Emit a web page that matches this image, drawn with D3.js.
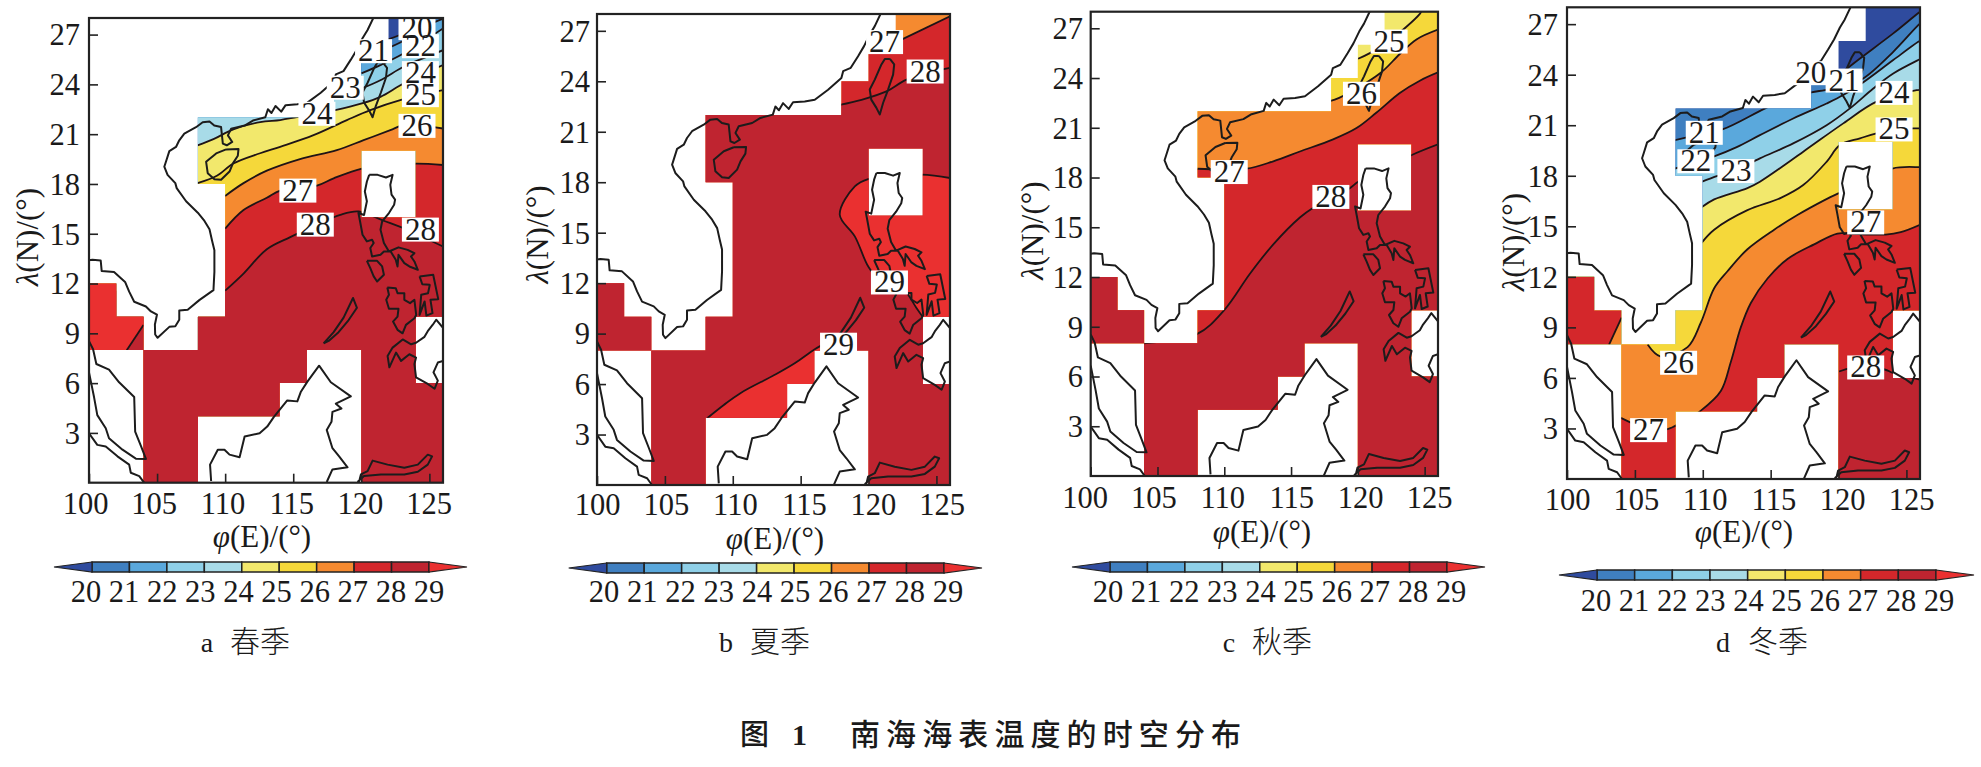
<!DOCTYPE html>
<html>
<head>
<meta charset="utf-8">
<script src="https://d3js.org/d3.v7.min.js"></script>
<style>
  body { margin: 0; background: #fff; }
  text { font-family: "Liberation Serif", serif; fill: #1a1a1a; }
  .cjk { font-family: "Noto Sans CJK SC", sans-serif; font-weight: 300; }
</style>
</head>
<body>
<svg id="chart" width="1981" height="767"></svg>
<script>
// colour levels
const levels = [20, 21, 22, 23, 24, 25, 26, 27, 28, 29];
const bandColors = ["#2f4b9e", "#3f7fc0", "#5aa8dc", "#8fd0e8", "#a8dbe8", "#f2e86c", "#f5d83a", "#f58a30", "#d4272b", "#bf2430", "#ea3030"];

const lonTicks = [100, 105, 110, 115, 120, 125];
const latTicks = [3, 6, 9, 12, 15, 18, 21, 24, 27];

// sea cells of the 2 degree grid: south edge, west edge, east edge
const oceanCells = [[26,122,126],[24,120,126],[22,118,126],[20,108,126],[18,108,120],[18,124,126],
  [16,110,120],[16,124,126],[14,110,126],[12,110,126],[10,100,102],[10,110,126],[8,100,104],[8,108,124],
  [6,104,116],[6,120,124],[4,104,114],[4,120,126],[2,104,108],[2,120,126],[0,104,108],[0,120,126]];

// coastlines [lon, lat]
const coastChina = [[120.9,28.03],[120.46,27.28],[120.1,26.8],[119.67,26.09],[119.23,25.49],[118.69,24.8],[118.13,24.6],[118,24.2],[117.02,23.5],[116.04,22.9],[115.3,22.8],[114.44,22.75],[114.12,22.36],[113.7,22.7],[113.4,22.28],[113.14,22.5],[112.95,22.02],[112.04,21.82],[111.43,21.52],[110.44,21.33],[110.2,20.93],[110.52,20.53],[110.12,20.33],[109.83,20.43],[109.7,21.43],[109.2,21.52],[108.85,21.76],[108.35,21.72],[107.86,21.42],[107,21.03],[106.63,20.63],[106.39,20.23],[105.9,19.98],[105.65,19.34],[105.53,19.04],[105.77,18.55],[106.34,18.05],[106.44,17.75],[107.13,16.96],[107.99,16.27],[108.48,15.77],[108.85,15.27],[109.04,14.58],[109.21,14],[109.21,12.7],[109.14,11.6],[108.1,11],[107.25,10.42],[106.63,10.38],[106.63,9.82],[106.34,9.43],[105.9,9.39],[105.04,8.73],[104.86,8.93],[104.84,9.53],[104.99,10.12],[104.55,10.32],[104.18,10.62],[103.32,10.9],[102.95,11.51],[102.65,12.1],[101.84,12.7],[100.93,12.76],[100.86,13.39],[100.25,13.43],[100,13.4]];
const coastHainan = [[110.07,20.08],[110.98,20.1],[110.93,19.7],[110.57,19.24],[110.32,18.75],[109.7,18.25],[109.21,18.29],[108.72,18.65],[108.6,19.34],[109.34,19.84],[110.07,20.08]];
const coastTaiwan = [[121.57,25.33],[121.89,25],[121.81,24.4],[121.44,23.51],[121.07,22.71],[120.83,22.02],[120.58,22.42],[120.2,22.91],[120.09,23.51],[120.46,24.1],[120.95,25],[121.2,25.33],[121.57,25.33]];
const coastMalay = [[100,8.53],[100.3,8.04],[100.54,7.15],[101.47,6.81],[102.21,6.05],[103.32,5.16],[103.39,3.08],[103.82,2.2],[104.18,1.43],[103.44,1.45],[102.46,1.99],[101.47,2.68],[101.23,3.28],[100.61,4.07],[100.37,5.16],[100,6.65]];
const coastSumatra = [[100,2.98],[100.61,2.28],[101.23,2.18],[102.09,1.59],[102.95,1.09],[103.07,0.6],[103.69,0.4],[104.05,0]];
const coastBorneo = [[108.97,0.1],[108.89,1.09],[109.46,1.99],[109.95,1.99],[110.32,1.69],[111.06,1.53],[111.43,2.78],[112.53,2.98],[113.09,3.38],[113.58,3.97],[114.56,4.96],[115.3,4.9],[115.55,5.46],[116.04,6.09],[116.9,7.05],[117.76,6.05],[119.23,5.2],[118.13,4.76],[118.54,4.47],[117.88,4.27],[117.81,3.67],[117.46,3.18],[117.88,2.08],[118.37,1.59],[118.99,0.93],[117.88,0.8],[117.46,0.04]];
const coastSulawesi = [[119.72,0.04],[119.85,0.1],[119.97,0.5],[120.46,0.7],[120.83,1.33],[121.93,1.09],[123.16,0.9],[124.15,1.09],[124.88,1.69],[125.2,1.59],[124.88,1.09],[124.15,0.66],[123.16,0.5],[121.44,0.5],[120.2,0.4],[119.72,0.04]];
const coastPalawan = [[117.23,8.39],[117.97,9.07],[118.7,9.95],[119.39,11.13],[119.68,10.54],[119.07,9.8],[118.33,9.07],[117.6,8.54],[117.23,8.39]];
const coastLuzon = [[120.58,18.55],[121.2,18.55],[121.81,18.39],[122.3,18.55],[122.13,17.95],[122.22,17.36],[122.48,17.06],[122.41,16.75],[122.03,16.25],[121.53,15.74],[121.41,15.24],[121.66,14.44],[122.03,13.93],[122.73,14.18],[123.4,14.03],[123.9,13.83],[123.65,13.63],[123.9,13.33],[124.15,12.83],[123.53,13.03],[123.16,13.23],[122.73,13.73],[122.66,13.03],[122.53,13.43],[122.16,13.93],[121.66,13.93],[121.41,13.73],[120.79,13.63],[120.66,14.14],[120.91,14.44],[120.79,14.64],[120.41,14.54],[120.09,14.94],[119.91,15.74],[119.79,16.25],[120.2,16.13],[120.41,16.96],[120.26,17.55],[120.41,18.15],[120.58,18.55]];
const coastMindoro = [[120.41,13.37],[121.16,13.37],[121.53,13.03],[121.66,12.53],[121.16,12.12],[120.91,12.43],[120.66,12.93],[120.41,13.37]];
const coastVisayas = [[121.91,11.76],[122.53,11.72],[122.66,11.42],[123.16,11.42],[123.16,11.02],[123.58,10.82],[123.9,11.02],[124.03,10.11],[123.9,9.91],[123.28,9.51],[123.03,9],[122.66,9.21],[122.33,9.71],[122.66,10.01],[122.73,10.48],[122.03,10.48],[121.83,11.02],[122.03,11.32],[121.91,11.76]];
const coastSamar = [[124.28,12.43],[125.28,12.53],[125.65,11.06],[125.08,11.02],[125.23,10.22],[124.78,10.07],[124.65,10.92],[124.28,10.11],[124.4,11.32],[124.9,11.42],[125.03,11.92],[124.48,11.96],[124.28,12.43]];
const coastMindanao = [[126,9.33],[125.5,9.82],[125.25,9.52],[124.88,9.13],[124.64,8.79],[124.02,8.43],[123.66,8.34],[123.04,8.63],[122.3,8.14],[121.93,7.64],[122.06,6.95],[122.55,7.84],[122.92,7.34],[123.53,7.74],[124.02,7.54],[123.9,7.15],[124.02,6.35],[124.88,5.95],[125.38,5.66],[125.62,6.15],[125.3,6.65],[125.62,7.24],[126,7.34]];
const coasts = [coastChina, coastHainan, coastTaiwan, coastMalay, coastSumatra, coastBorneo, coastSulawesi, coastPalawan, coastLuzon, coastMindoro, coastVisayas, coastSamar, coastMindanao];

// isotherms per season: [level, points, optional closing points of the warm side]
const isoSpring = [
  [20, [[122,26.72],[123.5,27.2],[125,27.9],[125.4,28.1]]],
  [21, [[122,26.2],[123.5,26.8],[125,27.6],[126,27.95]]],
  [22, [[120,24.66],[121.4,25.16],[123.1,25.86],[126,27.37]]],
  [23, [[120,23.75],[121.4,24.25],[123.1,25.06],[124.8,25.66],[126,26.06]]],
  [24, [[107.97,20.32],[109.14,20.7],[110.6,21.29],[112.57,21.73],[114.04,21.85],[115.27,22.03],[118.08,22.45],[120.04,22.85],[121.4,23.25],[123.1,24.05],[126,25.16]]],
  [25, [[107.97,18.05],[109.39,18.49],[110.6,19.23],[112.57,19.85],[114.04,20.24],[116.49,20.94],[118.94,21.85],[120.66,22.45],[122.86,23.05],[126,23.65]]],
  [26, [[110,17.28],[111.35,18.05],[113.06,18.8],[115.5,19.5],[118.2,20.04],[120.17,20.64],[122.13,21.24],[123.1,21.54],[126,21.34]]],
  [27, [[110,15.31],[111.35,16.43],[113.06,17.17],[114.04,17.6],[116.74,17.9],[117.97,18.34],[120.05,18.93],[122,19.1],[124,19.23],[126.05,19.14]]],
  [28, [[110,11.57],[111.35,12.6],[113.06,14.07],[114.78,14.8],[116.74,15.55],[118.46,16.14],[119.8,16.34],[121.6,15.8],[124.1,15],[125.3,14.5],[126.05,14.22]]],
  [29, [[102.77,7.98],[104,9.5]], [[104,12],[99,12],[99,7.98]]]
];
const isoSummer = [
  [27, [[122.43,26.48],[126,27.87]]],
  [28, [[117.88,22.6],[119.48,22.9],[121.32,23.4],[122.8,24.1],[125.62,24.74],[126,24.8]]],
  [29, [[126,18.25],[123.9,18.45],[119.97,18.19],[118.99,17.75],[117.88,16.07],[118.99,14.78],[119.97,13],[120.6,12.4],[122.2,12],[122.92,11.31],[123.53,10.52],[123.97,10.02]], [[127,9],[127,18.25]]],
  [29, [[108.11,3.97],[109.34,4.76],[110.56,5.46],[113.09,6.55],[114.56,7.24],[116.04,8.07],[117.2,8.6]], [[117.2,3],[108.11,3]]]
];
const isoAutumn = [
  [25, [[120.02,25.16],[120.9,25.5],[122.3,26.2],[124.64,27.87],[124.8,28.1]]],
  [26, [[117.9,22.6],[118.6,22.8],[121.64,24.27],[123.14,25.45],[124.39,26.33],[126,26.92]]],
  [27, [[107.98,18.53],[109,18.5],[111.67,18.53],[113.67,18.98],[115.66,19.57],[118.15,20.3],[119.9,20.98],[121.4,21.92],[123.14,23.1],[124.64,23.84],[126,24.34]]],
  [28, [[104,8],[107.98,8.57],[109.98,9.99],[111.92,12.2],[113.67,13.97],[115.66,15.59],[116.66,16.18],[119.4,17.36],[120.02,17.74],[123.96,19.33],[126,20]], [[127,20],[127,-1],[99,-1],[99,13],[104,13]]]
];
const isoWinter = [
  [20, [[120,24],[120.64,24.37],[121.58,24.96],[124.03,26.45],[126,27.73],[126.5,28]]],
  [21, [[107.95,20.11],[109.5,20.4],[111.45,20.75],[114.52,21.97],[116.5,22.7],[118,22.95],[119,23.09],[120.4,23.3],[121.82,23.78],[124.03,25.36],[125.87,26.94],[126.5,27.4]]],
  [22, [[107.95,18.43],[109.5,18.8],[110.84,19.15],[112.5,19.7],[114.21,20.41],[116.66,21.4],[119.12,22.29],[120.35,22.79],[121.7,23.48],[124.03,24.87],[125.87,25.95],[126.2,26.1]]],
  [23, [[109.91,17.64],[111.09,17.99],[112.5,18.35],[114.21,19.03],[116.66,19.92],[119.12,21],[120.84,22],[122.56,23.18],[124.03,24.07],[125.87,24.87],[126.2,25]]],
  [24, [[109.91,16.13],[110.84,16.6],[113.29,17.27],[114.21,17.65],[117.4,19.43],[120.35,21.11],[122.8,22.4],[125.75,23.08],[126.2,23.1]]],
  [25, [[109.91,14.02],[110.84,14.8],[113.29,15.96],[115.75,16.69],[117.4,17.45],[119.12,18.83],[120.1,19.82],[121.58,20.22],[122.8,20.51],[125.5,20.81],[126.2,20.8]]],
  [26, [[105.94,7.98],[106.9,7.27],[108.88,7.83],[109.86,9.29],[110.84,11.32],[111.82,12.33],[113.29,13.64],[115.26,14.8],[116.97,15.67],[118.93,16.54],[120.04,16.98],[123.96,18.43],[125.93,18.51],[126.2,18.5]], [[127,18.5],[127,-1],[99,-1],[99,12],[104.02,12],[104.02,8]]],
  [27, [[103.97,3.63],[104.7,3.35],[106,2.9],[107.41,2.96],[108.39,3.34],[109.86,4.06],[111.33,5.22],[112.07,6.96],[112.8,9],[113.54,10.45],[114.77,11.9],[116.24,13.06],[118.2,13.93],[119.92,14.57],[121,14.55],[123.47,14.51],[124.58,14.65],[126,15.09]]],
  [27, [[103.1,7.98],[104.02,9.58]], [[104.02,12],[99,12],[99,7.98]]],
  [28, [[120.04,6.38],[121,6.6],[123.4,6.5],[124,6.3],[126,5.9]], [[127,5.9],[127,-1],[119.9,-1]]]
];

// contour labels with white boxes [text, lon, lat]
const labelsSpring = [["20",124.09,27.39],["21",120.9,26],["22",124.34,26.3],["23",118.82,23.8],["24",116.74,22.23],["24",124.34,24.68],["25",124.34,23.35],["26",124.09,21.5],["27",115.34,17.6],["28",116.62,15.55],["28",124.34,15.25]];
const labelsSummer = [["27",121.18,26.33],["28",124.17,24.58],["29",121.54,12.04],["29",117.79,8.34]];
const labelsAutumn = [["25",122.34,26.2],["26",120.27,23.05],["27",110.37,18.33],["28",117.98,16.83]];
const labelsWinter = [["20",117.95,24.09],["21",120.41,23.65],["24",124.09,22.92],["25",124.09,20.75],["27",122,15.23],["28",122,6.62],["21",110.11,20.55],["22",109.49,18.86],["23",112.44,18.28],["26",108.22,6.9],["27",106.01,2.9]];

const seasonLetters = ["a", "b", "c", "d"];
const seasonNames = ["春季", "夏季", "秋季", "冬季"];
const seasonBase = [19, 26, 24, 19];
const seasonIso = [isoSpring, isoSummer, isoAutumn, isoWinter];
const seasonLabels = [labelsSpring, labelsSummer, labelsAutumn, labelsWinter];

// pixel layout of each panel
const layout = [
  { l: 89,   r: 443, t: 18,  b: 482.7, xLab: [85, 428.7],   xBase: 514, xTitle: [262, 547],  yEnd: 80,   yTitle: [38, 237],    bar: [92, 429, 567],   barLab: [86, 429, 602],   capLetter: 207,  capCjk: 230 },
  { l: 597,  r: 950, t: 14,  b: 485,   xLab: [597, 941.7],  xBase: 515, xTitle: [775, 549],  yEnd: 590,  yTitle: [548, 234.5], bar: [606.7, 944, 568], barLab: [604, 948, 602], capLetter: 726,  capCjk: 750 },
  { l: 1090.7, r: 1438, t: 11.7, b: 476, xLab: [1084.5, 1429], xBase: 508, xTitle: [1262, 542], yEnd: 1083, yTitle: [1043, 230.6], bar: [1110, 1447, 567], barLab: [1108, 1451, 602], capLetter: 1229, capCjk: 1252 },
  { l: 1567, r: 1920, t: 7.3, b: 479,  xLab: [1567, 1911],  xBase: 510, xTitle: [1744, 542], yEnd: 1558, yTitle: [1524, 242],  bar: [1597, 1936, 575], barLab: [1596, 1939, 611], capLetter: 1723, capCjk: 1748 }
];

const svg = d3.select("#chart");
const color = d3.scaleThreshold().domain(levels).range(bandColors);
const defs = svg.append("defs");

layout.forEach((p, i) => {
  const x = d3.scaleLinear().domain([100, 126]).range([p.l, p.r]);
  const y = d3.scaleLinear().domain([0, 28]).range([p.b, p.t]);
  const curve = d3.line().x(d => x(d[0])).y(d => y(d[1])).curve(d3.curveCatmullRom.alpha(0.5));
  const straight = d3.line().x(d => x(d[0])).y(d => y(d[1]));

  // clip to the grid cells that have data
  const maskId = "mask" + i;
  defs.append("clipPath").attr("id", maskId)
    .selectAll("rect").data(oceanCells).join("rect")
    .attr("x", d => x(d[1]))
    .attr("y", d => y(d[0] + 2))
    .attr("width", d => x(d[2]) - x(d[1]))
    .attr("height", d => y(d[0]) - y(d[0] + 2));
  const plotId = "plot" + i;
  defs.append("clipPath").attr("id", plotId).append("rect")
    .attr("x", p.l).attr("y", p.t).attr("width", p.r - p.l).attr("height", p.b - p.t);

  const g = svg.append("g");
  const field = g.append("g").attr("clip-path", `url(#${maskId})`);

  field.append("rect")
    .attr("x", p.l).attr("y", p.t).attr("width", p.r - p.l).attr("height", p.b - p.t)
    .attr("fill", color(seasonBase[i] + 0.5));

  // warm side of each isotherm, painted coldest first
  seasonIso[i].forEach(c => {
    const pts = c[1];
    const first = pts[0], last = pts[pts.length - 1];
    const closing = c[2] || [[127, last[1]], [127, -1], [99, -1], [99, first[1]]];
    const tail = closing.map(d => `L${x(d[0])},${y(d[1])}`).join("");
    field.append("path")
      .attr("d", curve(pts) + tail + "Z")
      .attr("fill", color(c[0] + 0.5));
  });
  seasonIso[i].forEach(c => {
    field.append("path")
      .attr("d", curve(c[1]))
      .attr("fill", "none")
      .attr("stroke", "#1f1416")
      .attr("stroke-width", 1.8);
  });

  // coast
  g.append("g").attr("clip-path", `url(#${plotId})`)
    .selectAll("path").data(coasts).join("path")
    .attr("d", straight)
    .attr("fill", "none")
    .attr("stroke", "#1c1c1c")
    .attr("stroke-width", 2)
    .attr("stroke-linejoin", "round");

  // contour labels, all boxes first so no box hides a neighbouring number
  const lab = g.append("g");
  lab.selectAll("rect").data(seasonLabels[i]).join("rect")
    .attr("x", d => x(d[1]) - 18.5).attr("y", d => y(d[2]) - 12)
    .attr("width", 37).attr("height", 24).attr("fill", "#fff");
  lab.selectAll("text").data(seasonLabels[i]).join("text")
    .attr("x", d => x(d[1])).attr("y", d => y(d[2]) + 10)
    .attr("text-anchor", "middle").attr("font-size", 31).text(d => d[0]);

  // axes
  const xLab = d3.scaleLinear().domain([100, 125]).range(p.xLab);
  const xAxis = g.append("g").attr("transform", `translate(0,${p.b})`)
    .call(d3.axisBottom(x).tickValues(lonTicks).tickSizeInner(-9).tickSizeOuter(0));
  xAxis.selectAll("text")
    .attr("x", d => xLab(d) - x(d))
    .attr("y", p.xBase - p.b)
    .attr("dy", 0)
    .attr("font-size", 30.5)
    .style("font-family", '"Liberation Serif", serif');
  const yAxis = g.append("g").attr("transform", `translate(${p.l},0)`)
    .call(d3.axisLeft(y).tickValues(latTicks).tickSizeInner(-9).tickSizeOuter(0));
  yAxis.selectAll("text")
    .attr("x", p.yEnd - p.l)
    .attr("dy", "0.34em")
    .attr("font-size", 30.5)
    .style("font-family", '"Liberation Serif", serif');
  g.selectAll(".domain").remove();
  g.selectAll(".tick line").attr("stroke", "#222").attr("stroke-width", 1.6);
  g.append("rect")
    .attr("x", p.l).attr("y", p.t).attr("width", p.r - p.l).attr("height", p.b - p.t)
    .attr("fill", "none").attr("stroke", "#222").attr("stroke-width", 2.2);

  // axis titles
  const xt = g.append("text").attr("x", p.xTitle[0]).attr("y", p.xTitle[1]).attr("text-anchor", "middle").attr("font-size", 31);
  xt.append("tspan").attr("font-style", "italic").text("φ");
  xt.append("tspan").text("(E)/(°)");
  const yt = g.append("text").attr("text-anchor", "middle").attr("font-size", 31)
    .attr("transform", `translate(${p.yTitle[0]},${p.yTitle[1]}) rotate(-90)`);
  yt.append("tspan").attr("font-style", "italic").text("λ");
  yt.append("tspan").text("(N)/(°)");

  // colour bar
  const bx = d3.scaleLinear().domain([levels[0], levels[levels.length - 1]]).range([p.bar[0], p.bar[1]]);
  const by = p.bar[2];
  const bar = g.append("g");
  bar.selectAll("rect").data(levels.slice(0, -1)).join("rect")
    .attr("x", d => bx(d)).attr("y", by - 5)
    .attr("width", d => bx(d + 1) - bx(d)).attr("height", 10)
    .attr("fill", d => color(d + 0.5))
    .attr("stroke", "#222").attr("stroke-width", 1.5);
  const arrow = 38;
  bar.append("path")
    .attr("d", `M${bx(20)},${by - 5}L${bx(20) - arrow},${by}L${bx(20)},${by + 5}Z`)
    .attr("fill", color(19.5)).attr("stroke", "#222").attr("stroke-width", 1.2);
  bar.append("path")
    .attr("d", `M${bx(29)},${by - 5}L${bx(29) + arrow},${by}L${bx(29)},${by + 5}Z`)
    .attr("fill", color(29.5)).attr("stroke", "#222").attr("stroke-width", 1.2);
  const lx = d3.scaleLinear().domain([20, 29]).range([p.barLab[0], p.barLab[1]]);
  bar.selectAll("text").data(levels).join("text")
    .attr("x", d => lx(d)).attr("y", p.barLab[2])
    .attr("text-anchor", "middle").attr("font-size", 30.5)
    .text(d => d);

  // panel caption
  g.append("text").attr("x", p.capLetter).attr("y", 652).attr("text-anchor", "middle").attr("font-size", 28).text(seasonLetters[i]);
  g.append("text").attr("class", "cjk").attr("x", p.capCjk).attr("y", 652).attr("font-size", 30).text(seasonNames[i]);
});

// figure title
svg.append("text").attr("class", "cjk").attr("x", 740).attr("y", 745).attr("font-size", 29).style("font-weight", 500).text("图");
svg.append("text").attr("x", 792).attr("y", 745).attr("font-size", 30).attr("font-weight", 700).text("1");
svg.append("text").attr("class", "cjk").attr("x", 850).attr("y", 745).attr("font-size", 30).attr("letter-spacing", 6.1).style("font-weight", 500).text("南海海表温度的时空分布");
</script>
</body>
</html>
